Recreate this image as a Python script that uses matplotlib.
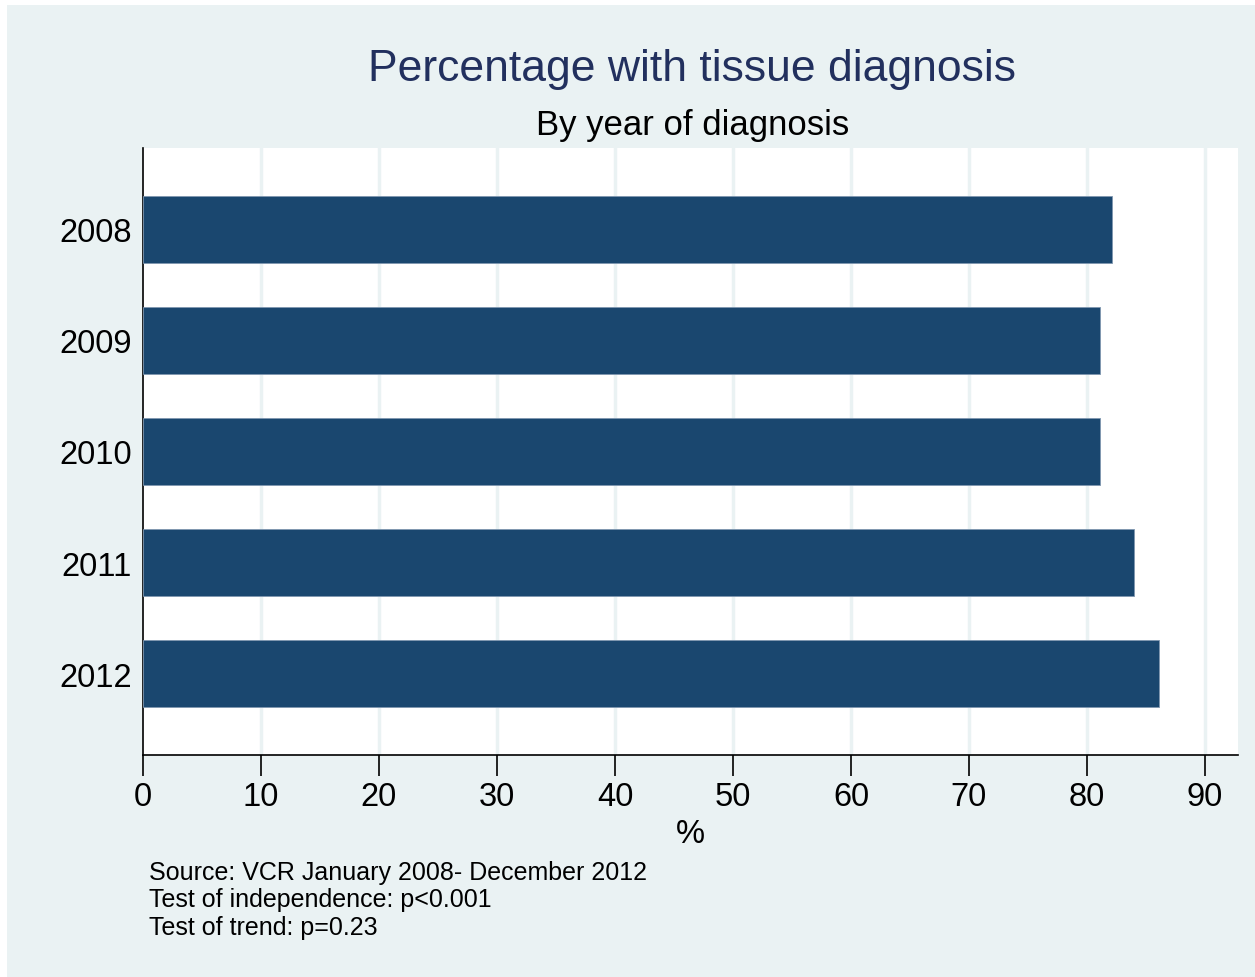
import matplotlib.pyplot as plt
from matplotlib.patches import Rectangle

# data
years = ["2008", "2009", "2010", "2011", "2012"]
pct_tissue = [82.1, 81.1, 81.1, 84.0, 86.1]
x_ticks = [0, 10, 20, 30, 40, 50, 60, 70, 80, 90]
notes = ["Source: VCR January 2008- December 2012",
         "Test of independence: p<0.001",
         "Test of trend: p=0.23"]

BG = "#EAF2F3"
NAVY = "#1A476F"

plt.rcParams['font.family'] = ['Liberation Sans', 'DejaVu Sans']

fig = plt.figure(figsize=(12.55, 9.78), dpi=100)
fig.patch.set_facecolor("white")
# graph region background (white sliver on left/top like the original export)
fig.patches.append(Rectangle((7 / 1255, 0), 1 - 7 / 1255, 1 - 6 / 978,
                             transform=fig.transFigure, facecolor=BG,
                             edgecolor="none", zorder=-10))

ax = fig.add_axes([143 / 1255, 1 - 756 / 978, (1238 - 143) / 1255, (756 - 149) / 978])
ax.set_facecolor("white")

ypos = list(range(len(years)))
ax.barh(ypos, pct_tissue, height=0.6, color=NAVY, edgecolor="#7f97b0",
        linewidth=0.6, zorder=3)

ax.set_ylim(len(years) - 1 + 0.73, -0.73)
ax.set_xlim(0, 92.8)
ax.set_yticks(ypos)
ax.set_yticklabels(years, fontsize=23.5)
ax.set_xticks(x_ticks)
ax.set_xticklabels([str(t) for t in x_ticks], fontsize=23.5)
ax.tick_params(axis="y", length=0, pad=8)
ax.tick_params(axis="x", length=15, width=1.2, direction="out", pad=4)

for t in x_ticks[1:]:
    ax.axvline(t, color=BG, linewidth=2.5, zorder=1)

for s in ["top", "right"]:
    ax.spines[s].set_visible(False)
for s in ["left", "bottom"]:
    ax.spines[s].set_linewidth(1.2)
    ax.spines[s].set_color("black")

ax.set_xlabel("%", fontsize=23.5, labelpad=4)

fig.text(0.5515, 1 - 70 / 978, "Percentage with tissue diagnosis", ha="center",
         va="center", fontsize=32, color="#22305e")
fig.text(0.5515, 1 - 125 / 978, "By year of diagnosis", ha="center",
         va="center", fontsize=25, color="black")

for i, line in enumerate(notes):
    fig.text(149 / 1255, 1 - (873 + i * 27.5) / 978, line, ha="left", va="center",
             fontsize=18, color="black")

fig.savefig("out.png", dpi=100, facecolor=fig.get_facecolor())
